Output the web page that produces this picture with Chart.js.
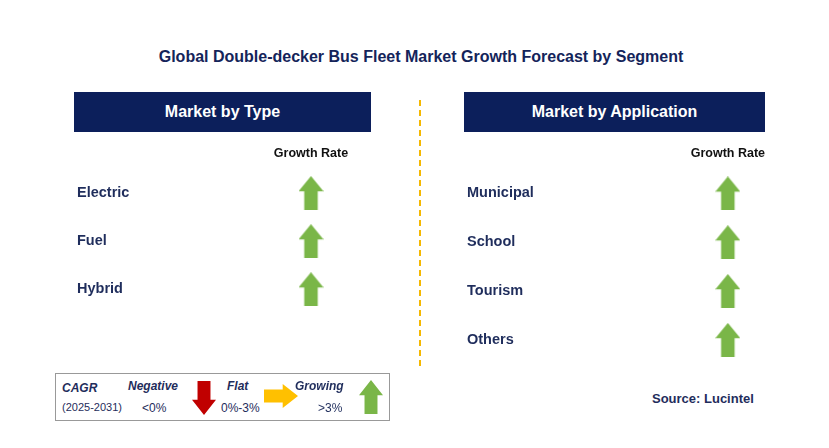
<!DOCTYPE html>
<html><head><meta charset="utf-8">
<script src="https://cdn.jsdelivr.net/npm/chart.js@4"></script>
<style>
body{margin:0;width:829px;height:448px;background:#fff;font-family:"Liberation Sans",Arial,sans-serif;position:relative;overflow:hidden}
.abs{position:absolute}
.title{left:0;width:842px;top:48px;text-align:center;font-weight:bold;font-size:16px;color:#14245a}
.hdr{background:#0c1f5b;color:#fff;font-weight:bold;font-size:16px;height:40px;line-height:40px;text-align:center;top:92px}
.vl{left:419px;top:100px;height:266px;border-left:2px dashed #f5b800}
.legend{left:55px;top:373px;width:333px;height:46px;border:1.5px solid #999;font-size:12px;color:#1f2d5c}
.legend span{position:absolute}
.bi{font-weight:bold;font-style:italic}
.src{left:652px;top:391px;font-weight:bold;font-size:13px;color:#1f2d5c}
</style></head><body>
<div class="abs title">Global Double-decker Bus Fleet Market Growth Forecast by Segment</div>
<div class="abs hdr" style="left:74px;width:297px">Market by Type</div>
<div class="abs hdr" style="left:464px;width:301px">Market by Application</div>
<div class="abs vl"></div>
<div class="abs" style="left:74px;top:143px;width:297px;height:179px"><canvas id="c1"></canvas></div>
<div class="abs" style="left:464px;top:143px;width:301px;height:230px"><canvas id="c2"></canvas></div>
<div class="abs legend">
<span class="bi" style="left:6px;top:7px">CAGR</span>
<span style="left:6px;top:27px;font-size:11px">(2025-2031)</span>
<span class="bi" style="left:72px;top:5px">Negative</span>
<span style="left:86px;top:27px">&lt;0%</span>
<canvas id="la1" width="24" height="34" style="position:absolute;left:136px;top:7px"></canvas>
<span class="bi" style="left:171px;top:5px">Flat</span>
<span style="left:165px;top:27px">0%-3%</span>
<canvas id="la2" width="34" height="24" style="position:absolute;left:208px;top:10px"></canvas>
<span class="bi" style="left:239px;top:5px">Growing</span>
<span style="left:262px;top:27px">&gt;3%</span>
<canvas id="la3" width="24" height="34" style="position:absolute;left:303px;top:6px"></canvas>
</div>
<div class="abs src">Source: Lucintel</div>
<script>
const typeCategories=['Electric','Fuel','Hybrid'];
const typeGrowth=['Growing','Growing','Growing'];
const appCategories=['Municipal','School','Tourism','Others'];
const appGrowth=['Growing','Growing','Growing','Growing'];
const columnLabel=['Growth Rate'];
const colors={Growing:'#7ab648',Negative:'#c00000',Flat:'#ffc000'};

function arrow(dir,color,w,h,cv){
  const c=cv||document.createElement('canvas');c.width=w;c.height=h;
  const g=c.getContext('2d');g.fillStyle=color;g.beginPath();
  if(dir==='up'){const s=w*0.27,hh=h*0.45;
    g.moveTo(w/2,0);g.lineTo(w,hh);g.lineTo(w/2+s,hh);g.lineTo(w/2+s,h);g.lineTo(w/2-s,h);g.lineTo(w/2-s,hh);g.lineTo(0,hh);}
  else if(dir==='down'){const s=w*0.27,hh=h*0.55;
    g.moveTo(w/2,h);g.lineTo(w,hh);g.lineTo(w/2+s,hh);g.lineTo(w/2+s,0);g.lineTo(w/2-s,0);g.lineTo(w/2-s,hh);g.lineTo(0,hh);}
  else{const s=h*0.27,ww=w*0.55;
    g.moveTo(w,h/2);g.lineTo(ww,0);g.lineTo(ww,h/2-s);g.lineTo(0,h/2-s);g.lineTo(0,h/2+s);g.lineTo(ww,h/2+s);g.lineTo(ww,h);}
  g.closePath();g.fill();return c;
}
const dirOf={Growing:'up',Negative:'down',Flat:'right'};
arrow('down',colors.Negative,24,34,document.getElementById('la1'));
arrow('right',colors.Flat,34,24,document.getElementById('la2'));
arrow('up',colors.Growing,24,34,document.getElementById('la3'));

function make(id,cats,growth,yw){
  new Chart(document.getElementById(id),{type:'scatter',
    data:{datasets:[{data:cats.map((c,i)=>({x:columnLabel[0],y:c})),
      pointStyle:growth.map(g=>arrow(dirOf[g],colors[g],25,34)),pointRadius:17,pointHoverRadius:17}]},
    options:{responsive:true,maintainAspectRatio:false,animation:false,events:[],
      layout:{padding:{left:3},autoPadding:false},
      plugins:{legend:{display:false},tooltip:{enabled:false}},
      scales:{
        x:{type:'category',labels:columnLabel,offset:true,position:'top',grid:{display:false},border:{display:false},
          ticks:{color:'#111',font:{family:'Liberation Sans',size:12.5,weight:'bold'},padding:0},
          afterFit:s=>{s.height=26;}},
        y:{type:'category',labels:cats,offset:true,grid:{display:false},border:{display:false},
          ticks:{crossAlign:'far',color:'#1f2d5c',font:{family:'Liberation Sans',size:14.5,weight:'bold'},padding:0},
          afterFit:s=>{s.width=yw;}}
      }}});
}
make('c1',typeCategories,typeGrowth,174);
make('c2',appCategories,appGrowth,224);
</script></body></html>
